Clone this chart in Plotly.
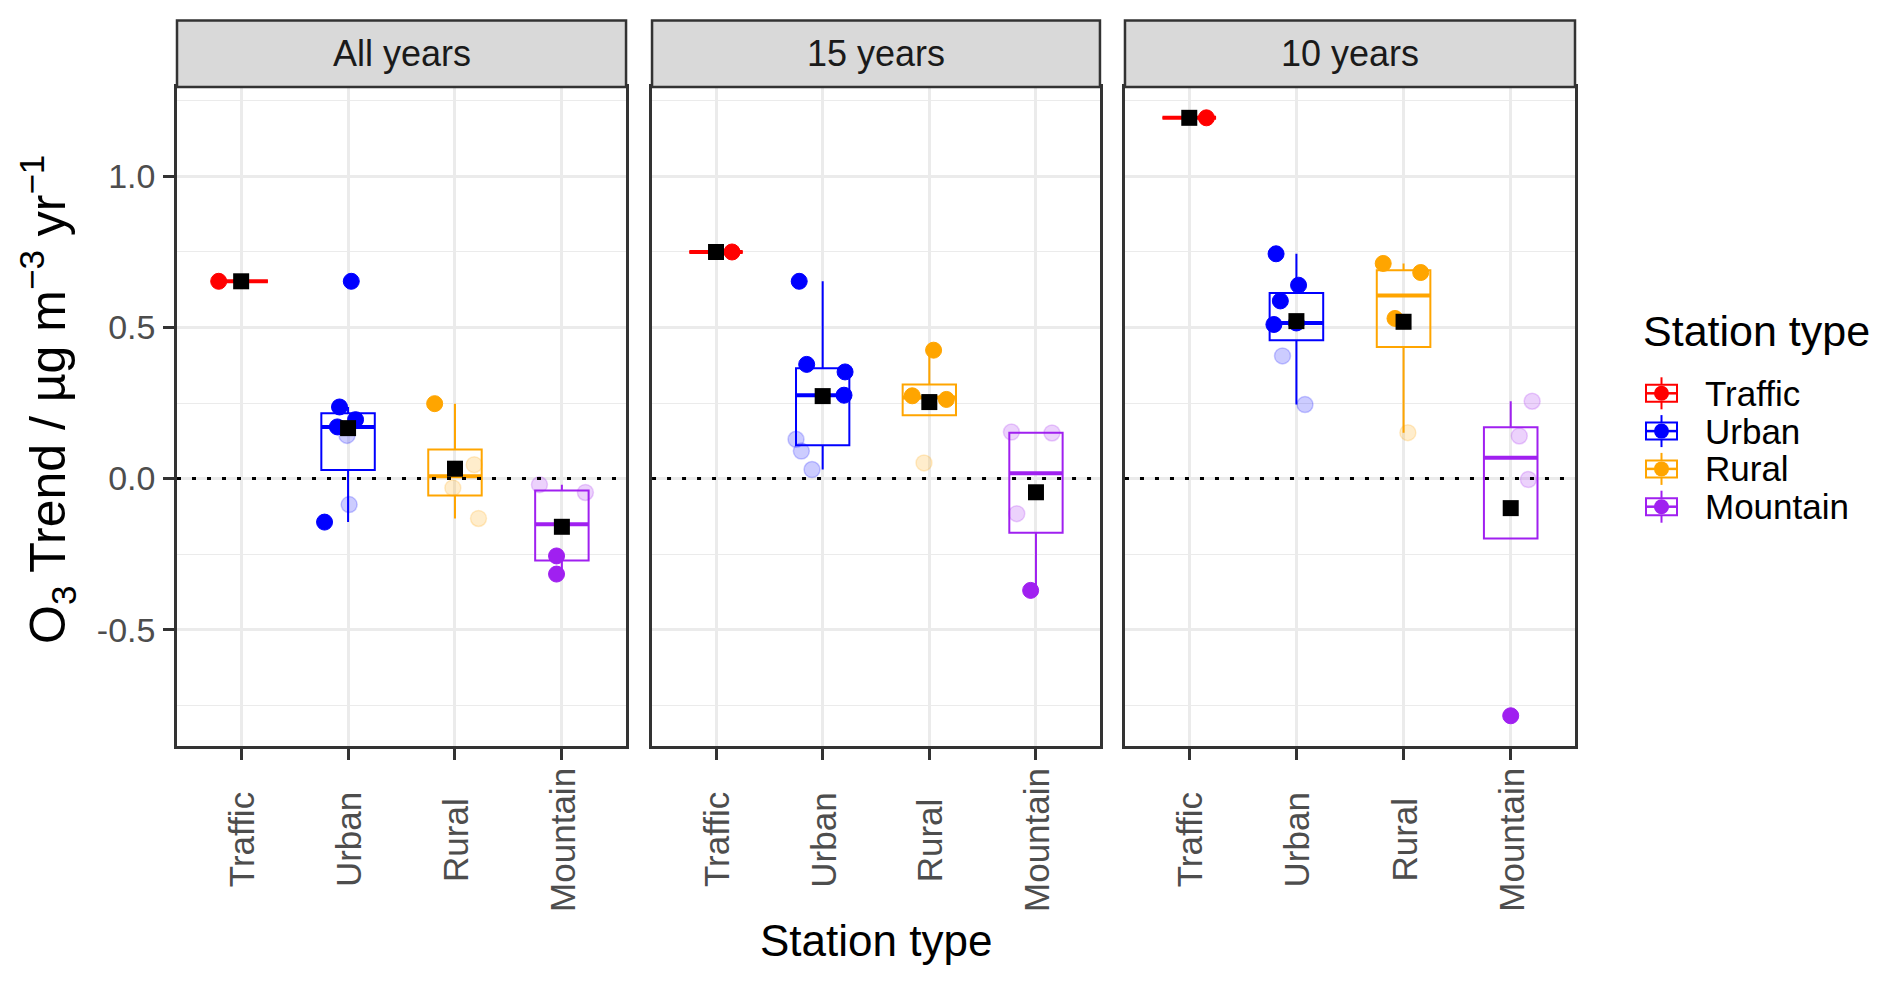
import numpy as np
import plotly.graph_objects as go

# ---------------- data ----------------
PERIODS = ["All years", "15 years", "10 years"]
TYPES = ["Traffic", "Urban", "Rural", "Mountain"]
COLORS = {"Traffic": "#FF0000", "Urban": "#0000FF", "Rural": "#FFA500", "Mountain": "#A020F0"}
Y_TICKS = [-0.5, 0.0, 0.5, 1.0]
Y_TICK_LABELS = ["-0.5", "0.0", "0.5", "1.0"]

trend_all = {
    "Traffic": [0.653],
    "Urban": [0.653, 0.237, 0.195, 0.171, 0.143, -0.086, -0.144],
    "Rural": [0.248, 0.046, -0.031, -0.132],
    "Mountain": [-0.020, -0.046, -0.256, -0.316],
}
signif_all = {
    "Traffic": [1],
    "Urban": [1, 1, 1, 1, 0, 0, 1],
    "Rural": [1, 0, 0, 0],
    "Mountain": [0, 0, 1, 1],
}
trend_15 = {
    "Traffic": [0.750],
    "Urban": [0.653, 0.378, 0.353, 0.276, 0.130, 0.091, 0.030],
    "Rural": [0.425, 0.274, 0.262, 0.052],
    "Mountain": [0.154, 0.151, -0.116, -0.370],
}
signif_15 = {
    "Traffic": [1],
    "Urban": [1, 1, 1, 1, 0, 0, 0],
    "Rural": [1, 1, 1, 0],
    "Mountain": [0, 0, 0, 1],
}
trend_10 = {
    "Traffic": [1.194],
    "Urban": [0.744, 0.640, 0.588, 0.510, 0.515, 0.406, 0.245],
    "Rural": [0.712, 0.682, 0.530, 0.152],
    "Mountain": [0.256, 0.141, -0.003, -0.785],
}
signif_10 = {
    "Traffic": [1],
    "Urban": [1, 1, 1, 1, 1, 0, 0],
    "Rural": [1, 1, 1, 0],
    "Mountain": [0, 0, 0, 1],
}

# horizontal jitter of the points (category units), as seen in the picture
jitter_all = {
    "Traffic": [-0.21],
    "Urban": [0.03, -0.08, 0.07, -0.10, -0.01, 0.01, -0.22],
    "Rural": [-0.19, 0.18, -0.02, 0.22],
    "Mountain": [-0.21, 0.22, -0.05, -0.05],
}
jitter_15 = {
    "Traffic": [0.15],
    "Urban": [-0.22, -0.15, 0.21, 0.20, -0.25, -0.20, -0.10],
    "Rural": [0.04, -0.16, 0.16, -0.05],
    "Mountain": [-0.23, 0.15, -0.18, -0.05],
}
jitter_10 = {
    "Traffic": [0.16],
    "Urban": [-0.19, 0.02, -0.15, -0.21, 0.0, -0.13, 0.08],
    "Rural": [-0.19, 0.16, -0.08, 0.04],
    "Mountain": [0.20, 0.08, 0.165, 0.0],
}

TRENDS = [trend_all, trend_15, trend_10]
SIGNIF = [signif_all, signif_15, signif_10]
JITTER = [jitter_all, jitter_15, jitter_10]

# ---------------- layout geometry (pixels) ----------------
W, H = 1892, 986
L, R, T, B = 177, 317, 87, 240
PW = W - L - R
PH = H - T - B
DOMAINS = [[0.0, 0.3212], [0.3398, 0.6602], [0.6781, 1.0]]
FONT = "Liberation Sans, Arial, sans-serif"
BOX_W = 0.5


def px_x(px):
    return (px - L) / PW


def px_y(py):
    return (T + PH - py) / PH


def rgba(hexc, a):
    hexc = hexc.lstrip("#")
    r, g, b = int(hexc[0:2], 16), int(hexc[2:4], 16), int(hexc[4:6], 16)
    return f"rgba({r},{g},{b},{a})"


fig = go.Figure()

for p, period in enumerate(PERIODS):
    xa = "x" if p == 0 else f"x{p+1}"
    ya = "y" if p == 0 else f"y{p+1}"
    for k, t in enumerate(TYPES):
        pos = k + 1
        vals = np.array(TRENDS[p][t], dtype=float)
        sig = np.array(SIGNIF[p][t], dtype=bool)
        jit = np.array(JITTER[p][t], dtype=float)
        c = COLORS[t]
        q1, med, q3 = np.percentile(vals, [25, 50, 75])
        iqr = q3 - q1
        lo = vals[vals >= q1 - 1.5 * iqr].min()
        hi = vals[vals <= q3 + 1.5 * iqr].max()
        fig.add_trace(go.Box(
            x=[pos], q1=[q1], median=[med], q3=[q3], lowerfence=[lo], upperfence=[hi],
            width=BOX_W, whiskerwidth=0, boxpoints=False,
            fillcolor="rgba(0,0,0,0)", line=dict(color=c, width=2),
            xaxis=xa, yaxis=ya, showlegend=False, hoverinfo="skip",
        ))
        # thicker median line (as ggplot)
        fig.add_trace(go.Scatter(
            x=[pos - BOX_W / 2, pos + BOX_W / 2], y=[med, med], mode="lines",
            line=dict(color=c, width=4), xaxis=xa, yaxis=ya,
            showlegend=False, hoverinfo="skip",
        ))
        # non-significant (faint) points
        if (~sig).any():
            fig.add_trace(go.Scatter(
                x=pos + jit[~sig], y=vals[~sig], mode="markers",
                marker=dict(size=16, color=rgba(c, 0.2), line=dict(color=rgba(c, 0.2), width=1.5)),
                xaxis=xa, yaxis=ya, showlegend=False, hoverinfo="skip",
            ))
        if sig.any():
            fig.add_trace(go.Scatter(
                x=pos + jit[sig], y=vals[sig], mode="markers",
                marker=dict(size=16, color=c, line=dict(color=c, width=1)),
                xaxis=xa, yaxis=ya, showlegend=False, hoverinfo="skip",
            ))
        # mean
        fig.add_trace(go.Scatter(
            x=[pos], y=[vals.mean()], mode="markers",
            marker=dict(symbol="square", size=16, color="black"),
            xaxis=xa, yaxis=ya, showlegend=False, hoverinfo="skip",
        ))

layout = dict(
    width=W, height=H,
    margin=dict(l=L, r=R, t=T, b=B, pad=0),
    paper_bgcolor="white", plot_bgcolor="white",
    font=dict(family=FONT, color="black"),
    showlegend=False,
)

shapes = []
annotations = []
for p, period in enumerate(PERIODS):
    sfx = "" if p == 0 else str(p + 1)
    layout[f"xaxis{sfx}"] = dict(
        domain=DOMAINS[p], range=[0.4, 4.6], anchor=f"y{sfx}",
        tickvals=[1, 2, 3, 4], showticklabels=False,
        ticks="outside", ticklen=11, tickwidth=2.5, tickcolor="#333333",
        showgrid=True, gridcolor="#EBEBEB", gridwidth=2.7,
        showline=True, linecolor="#333333", linewidth=2.5, mirror=True,
        zeroline=False, fixedrange=True,
    )
    ydict = dict(
        domain=[0, 1], range=[-0.885, 1.296], anchor=f"x{sfx}",
        tickvals=Y_TICKS, ticktext=Y_TICK_LABELS,
        showgrid=True, gridcolor="#EBEBEB", gridwidth=2.7,
        minor=dict(tickvals=[-0.75, -0.25, 0.25, 0.75, 1.25], showgrid=True,
                   gridcolor="#EBEBEB", gridwidth=1.4, ticks=""),
        showline=True, linecolor="#333333", linewidth=2.5, mirror=True,
        zeroline=False, fixedrange=True,
    )
    if p == 0:
        ydict.update(ticks="outside", ticklen=11, tickwidth=2.5, tickcolor="#333333",
                     tickfont=dict(size=34, color="#4D4D4D", family=FONT),
                     ticklabelstandoff=1)
    else:
        ydict.update(showticklabels=False, ticks="", matches="y")
    layout[f"yaxis{sfx}"] = ydict

    # zero reference line
    shapes.append(dict(type="line", xref=f"x{sfx} domain", yref=f"y{sfx}",
                       x0=0, x1=1, y0=0, y1=0, layer="above",
                       line=dict(color="black", width=3, dash="4px,11px")))
    # strip
    shapes.append(dict(type="rect", xref=f"x{sfx} domain", yref="paper",
                       x0=0, x1=1, y0=1.0, y1=px_y(20.5), layer="above",
                       fillcolor="#D9D9D9", line=dict(color="#333333", width=2.5)))
    annotations.append(dict(text=period, xref=f"x{sfx} domain", yref="paper",
                            x=0.5, y=px_y(53.7), xanchor="center", yanchor="middle",
                            showarrow=False, font=dict(size=36, color="#1A1A1A", family=FONT)))
    # category labels (rotated, centred)
    for k, t in enumerate(TYPES):
        annotations.append(dict(text=t, xref=f"x{sfx}", yref="paper",
                                x=k + 1, y=px_y(840), textangle=-90,
                                xanchor="center", yanchor="middle", showarrow=False,
                                font=dict(size=35, color="#4D4D4D", family=FONT)))

# axis titles
annotations.append(dict(text="Station type", xref="paper", yref="paper",
                        x=0.5, y=px_y(941), xanchor="center", yanchor="middle",
                        showarrow=False, font=dict(size=44, color="black", family=FONT)))
annotations.append(dict(text="O<sub>3</sub> Trend / µg m<sup>−3</sup> yr<sup>−1</sup>",
                        xref="paper", yref="paper", x=px_x(47), y=px_y(400),
                        textangle=-90, xanchor="center", yanchor="middle", showarrow=False,
                        font=dict(size=50, color="black", family=FONT)))

# legend (drawn like ggplot's boxplot+point keys)
annotations.append(dict(text="Station type", xref="paper", yref="paper",
                        x=px_x(1641), y=px_y(331), xanchor="left", yanchor="middle",
                        showarrow=False, font=dict(size=43, color="black", family=FONT)))
for i, t in enumerate(TYPES):
    cy = 393.3 + 37.8 * i
    c = COLORS[t]
    shapes.append(dict(type="rect", xref="paper", yref="paper",
                       x0=px_x(1646), x1=px_x(1677), y0=px_y(cy + 8.5), y1=px_y(cy - 8.5),
                       line=dict(color=c, width=2), fillcolor="white"))
    shapes.append(dict(type="line", xref="paper", yref="paper",
                       x0=px_x(1646), x1=px_x(1677), y0=px_y(cy), y1=px_y(cy),
                       line=dict(color=c, width=2.5)))
    shapes.append(dict(type="line", xref="paper", yref="paper",
                       x0=px_x(1661.5), x1=px_x(1661.5), y0=px_y(cy + 16), y1=px_y(cy + 8.5),
                       line=dict(color=c, width=2)))
    shapes.append(dict(type="line", xref="paper", yref="paper",
                       x0=px_x(1661.5), x1=px_x(1661.5), y0=px_y(cy - 8.5), y1=px_y(cy - 16),
                       line=dict(color=c, width=2)))
    shapes.append(dict(type="circle", xref="paper", yref="paper",
                       x0=px_x(1654), x1=px_x(1669), y0=px_y(cy + 7.5), y1=px_y(cy - 7.5),
                       fillcolor=c, line=dict(color=c, width=0)))
    annotations.append(dict(text=t, xref="paper", yref="paper",
                            x=px_x(1703), y=px_y(cy), xanchor="left", yanchor="middle",
                            showarrow=False, font=dict(size=35, color="black", family=FONT)))

layout["shapes"] = shapes
layout["annotations"] = annotations
fig.update_layout(**layout)

fig.write_html("out.html", config={"displayModeBar": False},
               post_script="document.body.style.margin='0';document.body.style.overflow='hidden';")
